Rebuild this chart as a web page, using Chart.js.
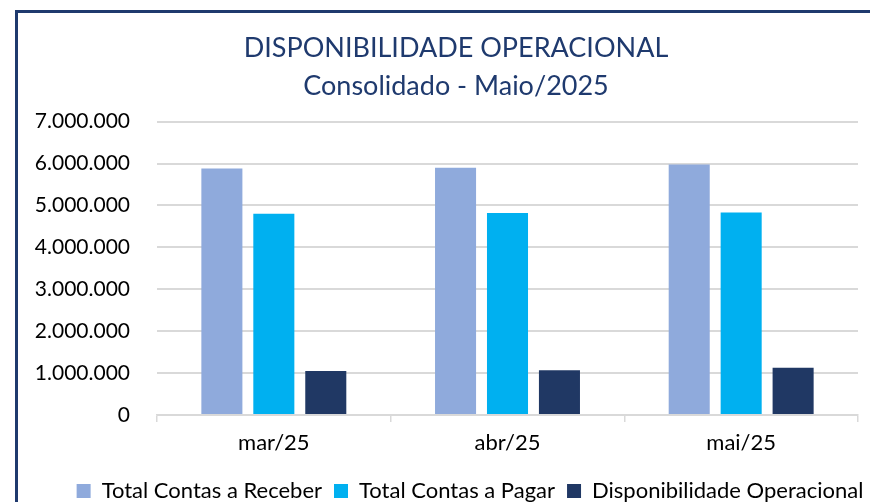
<!DOCTYPE html>
<html lang="pt-BR">
<head>
<meta charset="UTF-8">
<title>Disponibilidade Operacional</title>
<script src="https://cdn.jsdelivr.net/npm/chart.js"></script>
<style>
  html, body { margin: 0; padding: 0; background: #fff; }
  #wrap { position: relative; width: 870px; height: 502px; overflow: hidden; }
  /* moldura azul do grafico */
  #frame { position: absolute; left: 15px; top: 10px; width: 900px; height: 600px;
           border-left: 3px solid #1F3A6E; border-top: 3px solid #1F3A6E; }
  canvas { position: absolute; left: 0; top: 0; }
</style>
</head>
<body>
<div id="wrap">
  <div id="frame"></div>
  <!-- canvas um pouco mais alto que a janela: a legenda fica cortada embaixo como no original -->
  <canvas id="grafico" width="870" height="512"></canvas>
</div>
<script>
// dados
const meses = ['mar/25', 'abr/25', 'mai/25'];
const contasReceber = [5880000, 5900000, 5980000];
const contasPagar = [4800000, 4820000, 4830000];
const dispOperacional = [1050000, 1070000, 1130000];
const titulo = ['DISPONIBILIDADE OPERACIONAL', 'Consolidado - Maio/2025'];

// 7000000 -> "7.000.000"
function fmt(v) {
  return String(Math.round(v)).replace(/\B(?=(\d{3})+(?!\d))/g, '.');
}

const fonte = "Lato, 'Open Sans', sans-serif";

// no original o grafico continua pra direita, entao titulo e legenda ficam mais a direita
const desloca = {
  id: 'desloca',
  afterLayout(chart) {
    chart.titleBlock.left += 17;
    chart.titleBlock.right += 17;
    chart.legend.left += 31;
    chart.legend.right += 31;
  }
};

const ctx = document.getElementById('grafico').getContext('2d');
const chart = new Chart(ctx, {
  type: 'bar',
  data: {
    labels: meses,
    datasets: [
      { label: 'Total Contas a Receber', data: contasReceber, backgroundColor: '#8FAADC' },
      { label: 'Total Contas a Pagar', data: contasPagar, backgroundColor: '#00B0F0' },
      { label: 'Disponibilidade Operacional', data: dispOperacional, backgroundColor: '#203864' }
    ]
  },
  plugins: [desloca],
  options: {
    responsive: false,
    animation: false,
    categoryPercentage: 0.667,
    barPercentage: 0.79,
    layout: { padding: { left: 20, right: 12, top: 29, bottom: 0 } },
    plugins: {
      title: {
        display: true,
        text: titulo,
        color: '#1F3A6E',
        font: { family: fonte, size: 27, weight: 'normal', lineHeight: 1.42 },
        padding: { top: 0, bottom: 16 }
      },
      legend: {
        position: 'bottom',
        labels: {
          color: '#000',
          font: { family: fonte, size: 22 },
          boxWidth: 14, boxHeight: 14,
          padding: 12
        }
      },
      tooltip: { enabled: false }
    },
    scales: {
      x: {
        afterFit: function (s) { s.height = 53; },
        grid: { display: true, drawOnChartArea: false, color: '#D9D9D9', lineWidth: 1.5, tickLength: 7, offset: true },
        border: { color: '#D9D9D9', width: 1.5 },
        ticks: { color: '#000', font: { family: fonte, size: 22 }, padding: 8 }
      },
      y: {
        min: 0, max: 7000000,
        afterFit: function (s) { s.width = 137; },
        grid: { color: '#D9D9D9', lineWidth: 2, drawTicks: false },
        border: { display: false },
        ticks: { stepSize: 1000000, color: '#000', font: { family: fonte, size: 21 }, padding: 27,
                 callback: function (v) { return fmt(v); } }
      }
    }
  }
});
</script>
</body>
</html>
